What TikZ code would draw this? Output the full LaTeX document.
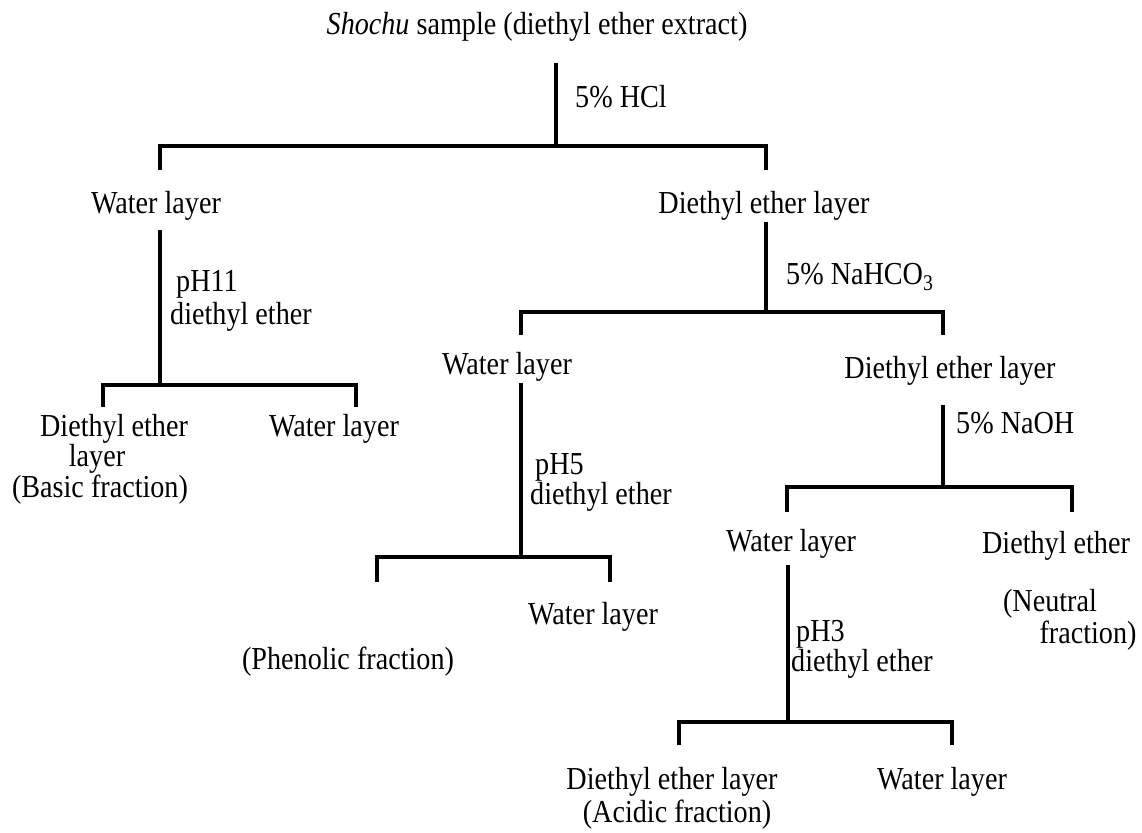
\documentclass[tikz,border=0pt]{standalone}
\usepackage{fontspec}
\setmainfont{Liberation Serif}[FakeStretch=0.88]
\begin{document}
\begin{tikzpicture}[x=1pt,y=-1pt,
  txt/.style={anchor=base,inner sep=0pt,font=\fontsize{32}{36}\selectfont},
  lbl/.style={anchor=base west,inner sep=0pt,font=\fontsize{32}{36}\selectfont},
  ln/.style={line width=3.5pt,line cap=rect}]
\useasboundingbox (0,0) rectangle (1142,832);
% texts
\node[txt] (title) at (537,35) {\textit{Shochu} sample (diethyl ether extract)};
\node[lbl] (hcl) at (575,108) {5\% HCl};
\node[txt] (w1) at (156,213) {Water layer};
\node[txt] (e1) at (764,213) {Diethyl ether layer};
\node[lbl] (ph11a) at (176,291) {pH11};
\node[lbl] (ph11b) at (170,324) {diethyl ether};
\node[lbl] (nahco3) at (786,284) {5\% NaHCO\textsubscript{3}};
\node[txt] (w2) at (507,374) {Water layer};
\node[txt] (e2) at (950,378) {Diethyl ether layer};
\node[txt] (basicA) at (114,436) {Diethyl ether};
\node[txt] (basicB) at (97,466) {layer};
\node[txt] (basicC) at (100,497) {(Basic fraction)};
\node[txt] (w3) at (334,436) {Water layer};
\node[lbl] (ph5a) at (535,474) {pH5};
\node[lbl] (ph5b) at (530,504) {diethyl ether};
\node[lbl] (naoh) at (956,433) {5\% NaOH};
\node[txt] (w4) at (593,624) {Water layer};
\node[txt] (phen) at (348,669) {(Phenolic fraction)};
\node[txt] (w5) at (791,551) {Water layer};
\node[txt] (e5) at (1056,553) {Diethyl ether};
\node[txt] (neuA) at (1050,611) {(Neutral};
\node[txt] (neuB) at (1088,643) {fraction)};
\node[lbl] (ph3a) at (796,641) {pH3};
\node[lbl] (ph3b) at (791,671) {diethyl ether};
\node[txt] (acA) at (672,789) {Diethyl ether layer};
\node[txt] (acB) at (677,822) {(Acidic fraction)};
\node[txt] (w6) at (942,789) {Water layer};
% junction coordinates
\coordinate (s0) at (556,65);  \coordinate (j0) at (556,146);
\coordinate (l0) at (160,146); \coordinate (r0) at (766,146);
\coordinate (l0d) at (160,170); \coordinate (r0d) at (766,170);
\coordinate (s1) at (160,232); \coordinate (j1) at (160,385);
\coordinate (l1) at (103,385); \coordinate (r1) at (356,385);
\coordinate (l1d) at (103,407); \coordinate (r1d) at (356,407);
\coordinate (s2) at (766,224); \coordinate (j2) at (766,312);
\coordinate (l2) at (521,312); \coordinate (r2) at (943,312);
\coordinate (l2d) at (521,335); \coordinate (r2d) at (943,335);
\coordinate (s3) at (521,385); \coordinate (j3) at (521,557);
\coordinate (l3) at (377,557); \coordinate (r3) at (610,557);
\coordinate (l3d) at (377,582); \coordinate (r3d) at (610,582);
\coordinate (s4) at (943,407); \coordinate (j4) at (943,487);
\coordinate (l4) at (787,487); \coordinate (r4) at (1072,487);
\coordinate (l4d) at (787,512); \coordinate (r4d) at (1072,512);
\coordinate (s5) at (788,567); \coordinate (j5) at (788,722);
\coordinate (l5) at (679,722); \coordinate (r5) at (952,722);
\coordinate (l5d) at (679,745); \coordinate (r5d) at (952,745);
% connectors
\foreach \i in {0,...,5}{
  \draw[ln] (s\i) -- (j\i);
  \draw[ln,line cap=butt] (l\i d) -- (l\i) -- (r\i) -- (r\i d);
}
\end{tikzpicture}
\end{document}
